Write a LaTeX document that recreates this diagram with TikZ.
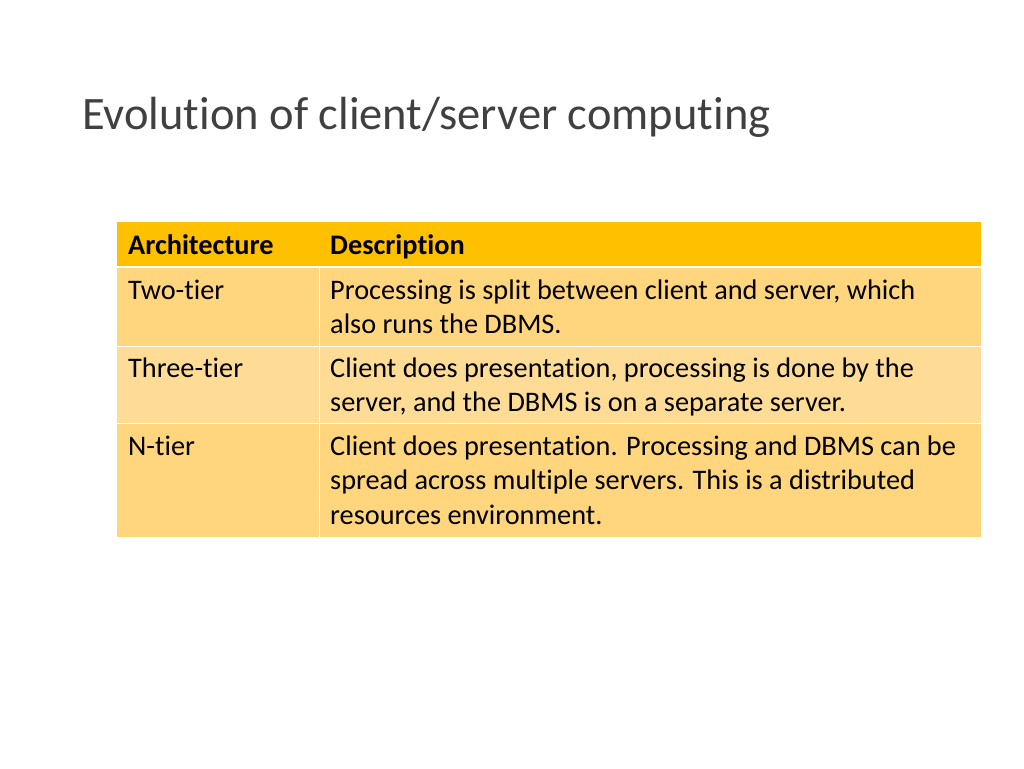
\documentclass[tikz,border=0pt]{standalone}
\usepackage{fontspec}
\setmainfont[Ligatures=CommonOff]{Carlito}
\definecolor{hdr}{RGB}{255,192,0}
\definecolor{rowa}{RGB}{255,213,125}
\definecolor{rowb}{RGB}{255,220,150}
\begin{document}
\begin{tikzpicture}[x=1pt,y=-1pt,
  txt/.style={anchor=base west,inner sep=0pt,font=\fontsize{28.3}{32}\selectfont},
  bold/.style={txt,font=\fontsize{28.3}{32}\selectfont\bfseries}]
\useasboundingbox (0,0) rectangle (1024,768);
\fill[white] (0,0) rectangle (1024,768);
\node[anchor=base west,inner sep=0pt,font=\fontsize{46.5}{52}\selectfont,text=black!75] (title) at (82,129) {Evolution of client/server computing};
\fill[hdr] (117,222) rectangle (981,267);
\fill[rowa] (117,267) rectangle (981,346);
\fill[rowb] (117,346) rectangle (981,423);
\fill[rowa] (117,423) rectangle (981,537);
\draw[white,line width=2pt] (117,267) -- (981,267);
\draw[white,line width=1pt] (117,346) -- (981,346) (117,423) -- (981,423);
\draw[white,line width=1pt] (319,267) -- (319,537);
\node[bold] (h1) at (128,254) {Architecture};
\node[bold] (h2) at (330,254) {Description};
\node[txt] (a1) at (128,299) {Two-tier};
\node[txt] (b1) at (330,299) {Processing is split between client and server, which};
\node[txt] (b1b) at (330,333) {also runs the DBMS.};
\node[txt] (a2) at (128,377) {Three-tier};
\node[txt] (b2) at (330,377) {Client does presentation, processing is done by the};
\node[txt] (b2b) at (330,411) {server, and the DBMS is on a separate server.};
\node[txt] (a3) at (128,455) {N-tier};
\node[txt] (b3) at (330,455) {Client does presentation. Processing and DBMS can be};
\node[txt] (b3b) at (330,489) {spread across multiple servers. This is a distributed};
\node[txt] (b3c) at (330,524) {resources environment.};
\end{tikzpicture}
\end{document}
